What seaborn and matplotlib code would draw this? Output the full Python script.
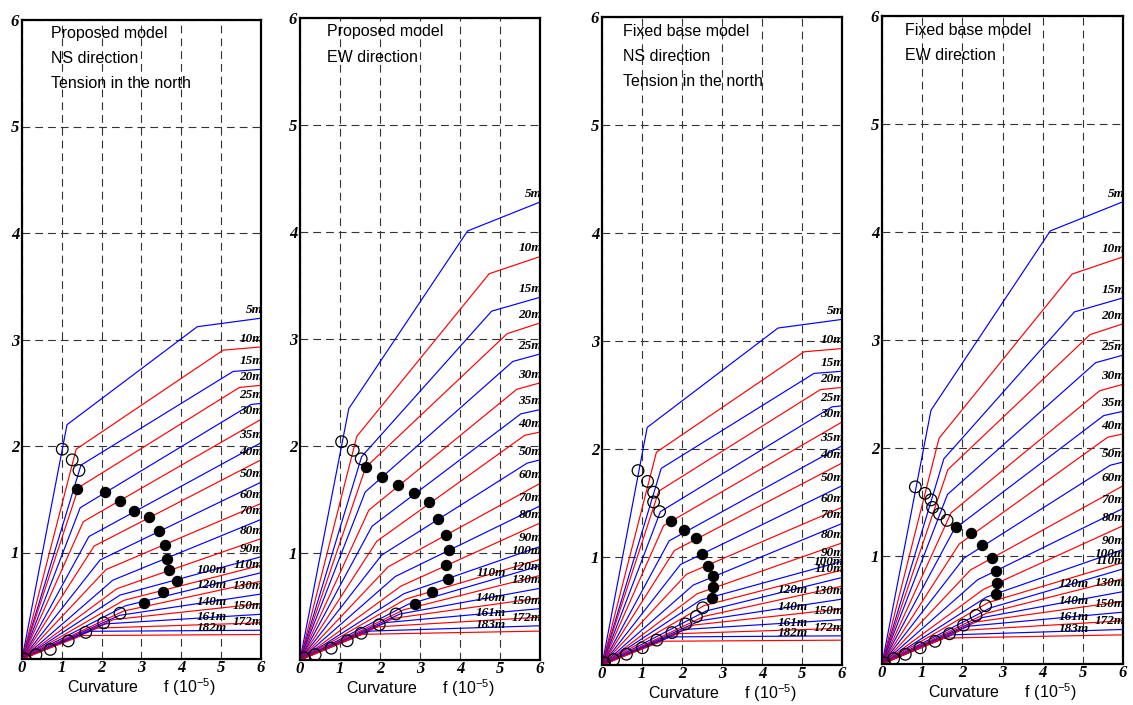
import numpy as np
import pandas as pd
import matplotlib
matplotlib.use('Agg')
import matplotlib.pyplot as plt
import seaborn as sns

sns.set_style('white')
plt.rcParams['font.family'] = ['Liberation Sans', 'DejaVu Sans']
plt.rcParams['mathtext.fontset'] = 'custom'
plt.rcParams['mathtext.rm'] = 'Liberation Sans'
plt.rcParams['mathtext.it'] = 'Liberation Sans:italic'
plt.rcParams['text.color'] = 'black'
plt.rcParams['axes.labelcolor'] = 'black'
plt.rcParams['xtick.color'] = 'black'
plt.rcParams['ytick.color'] = 'black'

nan = np.nan

# NS direction curves (shared by panels 1 and 3)
ns_labels = ['5m', '10m', '15m', '20m', '25m', '30m', '35m', '40m', '50m', '60m', '70m',
             '80m', '90m', '100m', '110m', '120m', '130m', '140m', '150m', '161m', '172m', '182m']
ns_k1x = [1.13, 1.36, 1.48, 1.42, 1.46, 1.54, 1.68, 1.81, 1.96, 2.11, 2.28,
          2.38, 2.46, 2.55, 2.60, 2.55, 2.45, 2.30, 2.10, 1.90, 1.70, 1.50]
ns_k1y = [2.20, 1.97, 1.82, 1.61, 1.42, 1.29, 1.15, 1.06, 0.93, 0.84, 0.74,
          0.66, 0.60, 0.55, 0.50, 0.45, 0.41, 0.37, 0.33, 0.29, 0.26, 0.22]
ns_k2x = [4.40, 5.05, 5.30, 5.46, 5.75] + [nan] * 17
ns_k2y = [3.12, 2.90, 2.70, 2.55, 2.39] + [nan] * 17
ns_end = [3.20, 2.93, 2.72, 2.57, 2.40, 2.25, 2.03, 1.87, 1.66, 1.46, 1.31,
          1.13, 0.96, 0.88, 0.81, 0.73, 0.61, 0.52, 0.42, 0.34, 0.27, 0.23]

# EW direction curves (shared by panels 2 and 4)
ew_labels = ns_labels[:-1] + ['183m']
ew_k1x = [1.22, 1.42, 1.54, 1.64, 1.63, 1.72, 1.80, 1.92, 2.04, 2.20, 2.38,
          2.52, 2.60, 2.65, 2.70, 2.60, 2.50, 2.35, 2.15, 1.95, 1.75, 1.55]
ew_k1y = [2.35, 2.09, 1.90, 1.80, 1.57, 1.40, 1.25, 1.11, 0.98, 0.87, 0.78,
          0.69, 0.62, 0.57, 0.52, 0.47, 0.43, 0.39, 0.35, 0.31, 0.27, 0.24]
ew_k2x = [4.19, 4.73, 4.79, 5.18, 5.32, 5.42, 5.52, 5.62, 5.68] + [nan] * 13
ew_k2y = [4.01, 3.61, 3.26, 3.05, 2.79, 2.53, 2.30, 2.10, 1.84] + [nan] * 13
ew_end = [4.28, 3.77, 3.39, 3.15, 2.86, 2.59, 2.34, 2.13, 1.87, 1.65, 1.44,
          1.28, 1.06, 0.94, 0.88, 0.79, 0.67, 0.58, 0.48, 0.40, 0.32, 0.27]

# markers (1 = filled, 0 = open)
p1_mx = [1.01, 1.26, 1.43, 1.39, 2.09, 2.47, 2.82, 3.19, 3.43, 3.58, 3.64,
         3.68, 3.90, 3.54, 3.07, 2.46, 2.05, 1.60, 1.16, 0.71, 0.35, 0.06]
p1_my = [1.97, 1.87, 1.77, 1.60, 1.57, 1.48, 1.39, 1.33, 1.20, 1.07, 0.94,
         0.84, 0.73, 0.63, 0.53, 0.43, 0.34, 0.25, 0.17, 0.09, 0.04, 0.00]
p1_fill = [0] * 3 + [1] * 12 + [0] * 7

p2_mx = [1.04, 1.33, 1.53, 1.64, 2.06, 2.46, 2.86, 3.23, 3.46, 3.64, 3.72,
         3.66, 3.70, 3.30, 2.88, 2.40, 1.98, 1.53, 1.18, 0.78, 0.38, 0.10]
p2_my = [2.04, 1.96, 1.88, 1.80, 1.71, 1.64, 1.56, 1.48, 1.32, 1.17, 1.03,
         0.89, 0.76, 0.64, 0.52, 0.43, 0.33, 0.25, 0.18, 0.11, 0.05, 0.02]
p2_fill = [0] * 3 + [1] * 12 + [0] * 7

p3_mx = [0.90, 1.14, 1.29, 1.29, 1.44, 1.73, 2.06, 2.35, 2.51, 2.64, 2.77,
         2.77, 2.76, 2.52, 2.36, 2.09, 1.75, 1.37, 1.01, 0.61, 0.29, 0.06]
p3_my = [1.80, 1.70, 1.60, 1.51, 1.42, 1.33, 1.25, 1.18, 1.03, 0.92, 0.82,
         0.72, 0.62, 0.53, 0.45, 0.38, 0.30, 0.23, 0.16, 0.10, 0.05, 0.02]
p3_fill = [0] * 5 + [1] * 8 + [0] * 9

p4_mx = [0.83, 1.07, 1.22, 1.26, 1.43, 1.62, 1.84, 2.22, 2.49, 2.73, 2.84,
         2.87, 2.85, 2.58, 2.34, 2.03, 1.68, 1.32, 0.95, 0.58, 0.29, 0.06]
p4_my = [1.64, 1.58, 1.52, 1.45, 1.39, 1.33, 1.27, 1.21, 1.10, 0.98, 0.86,
         0.75, 0.65, 0.54, 0.45, 0.36, 0.28, 0.21, 0.15, 0.09, 0.05, 0.01]
p4_fill = [0] * 6 + [1] * 7 + [0] * 9

# labels written inside the plot instead of at the right edge
p1_inner = ['100m', '120m', '140m', '161m', '182m']
p2_inner = ['110m', '140m', '161m', '183m']
p3_inner = ['120m', '140m', '161m', '182m']
p4_inner = ['120m', '140m', '161m', '183m']

p1_text = ['Proposed model', 'NS direction', 'Tension in the north']
p2_text = ['Proposed model', 'EW direction']
p3_text = ['Fixed base model', 'NS direction', 'Tension in the north']
p4_text = ['Fixed base model', 'EW direction']

ns = (ns_labels, ns_k1x, ns_k1y, ns_k2x, ns_k2y, ns_end)
ew = (ew_labels, ew_k1x, ew_k1y, ew_k2x, ew_k2y, ew_end)

W, H = 1133, 705
fig = plt.figure(figsize=(W / 100, H / 100), dpi=100)

# pixel boxes: left, right, top, bottom
panels = [
    dict(box=(22, 261, 20, 659), curves=ns, mx=p1_mx, my=p1_my, fill=p1_fill,
         inner=p1_inner, text=p1_text, tx=0.72),
    dict(box=(300, 540, 18, 660), curves=ew, mx=p2_mx, my=p2_my, fill=p2_fill,
         inner=p2_inner, text=p2_text, tx=0.68),
    dict(box=(602, 842, 17, 665), curves=ns, mx=p3_mx, my=p3_my, fill=p3_fill,
         inner=p3_inner, text=p3_text, tx=0.52),
    dict(box=(882, 1123, 16, 664), curves=ew, mx=p4_mx, my=p4_my, fill=p4_fill,
         inner=p4_inner, text=p4_text, tx=0.58),
]

tick_font = dict(family='Liberation Serif', weight='bold', style='italic', size=12)
lab_font = dict(family='Liberation Serif', weight='bold', style='italic', size=9.5)

for p in panels:
    l, r, t, b = p['box']
    ax = fig.add_axes([l / W, 1 - b / H, (r - l) / W, (b - t) / H])
    labels, k1x, k1y, k2x, k2y, yend = p['curves']

    rows = []
    for i, lab in enumerate(labels):
        pts = [(0, 0), (k1x[i], k1y[i])]
        if not np.isnan(k2x[i]):
            pts.append((k2x[i], k2y[i]))
        pts.append((6, yend[i]))
        for j, (x, y) in enumerate(pts):
            rows.append(dict(curve=lab, order=j, x=x, y=y))
    df = pd.DataFrame(rows)
    pal = {lab: ('#0000ff' if i % 2 == 0 else '#ff0000') for i, lab in enumerate(labels)}
    sns.lineplot(data=df, x='x', y='y', hue='curve', palette=pal, sort=False,
                 estimator=None, legend=False, linewidth=0.85, ax=ax, zorder=2)

    # curve labels
    for i, lab in enumerate(labels):
        if lab in p['inner']:
            if np.isnan(k2x[i]):
                yl = k1y[i] + (yend[i] - k1y[i]) * (4.8 - k1x[i]) / (6 - k1x[i])
            else:
                yl = yend[i]
            ax.text(5.15, yl + 0.01, lab, ha='right', va='bottom', zorder=4, **lab_font)
        else:
            ax.text(6.05, yend[i] + 0.02, lab, ha='right', va='bottom', zorder=4,
                    clip_on=True, **lab_font)

    mx = np.array(p['mx'])
    my = np.array(p['my'])
    fl = np.array(p['fill']) == 1
    sns.scatterplot(x=mx[fl], y=my[fl], s=55, color='black', edgecolor='black',
                    linewidth=0.8, ax=ax, zorder=5)
    sns.scatterplot(x=mx[~fl], y=my[~fl], s=70, color='white', edgecolor='black',
                    linewidth=0.9, ax=ax, zorder=5)
    ax.collections[-1].set_facecolor('none')

    for k, line in enumerate(p['text']):
        ax.text(p['tx'], 5.87 - 0.235 * k, line, ha='left', va='center', fontsize=11.5)

    ax.set_xlim(0, 6)
    ax.set_ylim(0, 6)
    ax.set_xticks(range(7))
    ax.set_yticks(range(7))
    ax.set_xticklabels([str(v) for v in range(7)])
    ax.set_yticklabels([''] + [str(v) for v in range(1, 7)])
    for lbl in ax.get_xticklabels() + ax.get_yticklabels():
        lbl.set(**tick_font)
    ax.tick_params(length=0, pad=2)
    ax.tick_params(axis='x', pad=1)
    ax.grid(True, color='#333333', linestyle=(0, (7, 4.5)), linewidth=0.8)
    ax.set_axisbelow(True)
    for s in ax.spines.values():
        s.set_visible(True)
        s.set_linewidth(1.6)
        s.set_color('black')
    ax.set_xlabel(r'Curvature      f (10$^{-5}$)', fontsize=11.5, labelpad=0)
    ax.set_ylabel('')

fig.savefig('out.png', dpi=100, facecolor='white')
